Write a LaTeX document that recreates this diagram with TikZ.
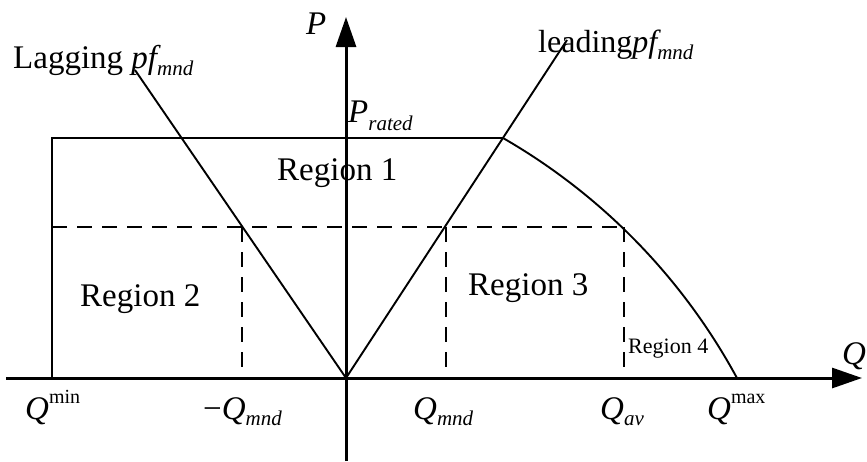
\documentclass[tikz,border=0pt]{standalone}
\usepackage{fontspec}
\setmainfont{Liberation Serif}
\usetikzlibrary{arrows.meta}
\newcommand\fs[1]{\fontsize{#1}{#1}\selectfont}
\newcommand\lsub[2][6pt]{\raisebox{-#1}{\fs{21}\itshape #2}}
\newcommand\usup[1]{\raisebox{16pt}{\fs{20}#1}}
\begin{document}
\begin{tikzpicture}[x=1pt,y=-1pt,
  axis/.style={line width=3pt,-{Triangle[length=30pt,width=20pt]}},
  bline/.style={line width=1.9pt},
  dline/.style={line width=1.9pt,dash pattern=on 15pt off 10pt},
  lbl/.style={inner sep=0pt,anchor=base west,font=\fs{33}},
  small/.style={inner sep=0pt,anchor=base west,font=\fs{22}}]
\useasboundingbox (0,0) rectangle (867,461);
% coordinates
\coordinate (O) at (346,378);
\coordinate (qL) at (6,378);
\coordinate (qR) at (862,378);
\coordinate (pB) at (346,461);
\coordinate (pT) at (346,17);
\coordinate (bl) at (52,378);
\coordinate (tl) at (52,138);
\coordinate (tr) at (503,138);
\coordinate (lagT) at (135,70);
\coordinate (leadT) at (567,40);
\coordinate (dl) at (52,227);
\coordinate (dr) at (624,227);
\coordinate (d1t) at (242,227);
\coordinate (d1b) at (242,378);
\coordinate (d2t) at (446,227);
\coordinate (d2b) at (446,378);
\coordinate (d3b) at (624,378);
% axes
\draw[axis] (qL) -- (qR);
\draw[axis] (pB) -- (pT);
% boundary
\draw[bline] (bl) -- (tl) -- (tr);
\draw[bline] (tr) arc[start angle=-60.06, end angle=-28.4, radius=616];
% pf lines
\draw[bline] (lagT) -- (O) -- (leadT);
% dashed
\draw[dline] (dl) -- (dr);
\draw[dline] (d1t) -- (d1b);
\draw[dline] (d2t) -- (d2b);
\draw[dline] (dr) -- (d3b);
% labels
\node[lbl,font=\fs{33}] (P) at (306,34) {\itshape P};
\node[lbl] (Prated) at (348,122) {\itshape P\lsub[8pt]{rated}};
\node[lbl] (Qlab) at (842,364) {\itshape Q};
\node[lbl] (lag) at (13,68) {Lagging \itshape pf\lsub[7pt]{mnd}};
\node[lbl,font=\fs{32}] (lead) at (538,52) {leading\itshape pf\lsub[7pt]{mnd}};
\node[lbl] (r1) at (277,180) {Region 1};
\node[lbl] (r2) at (80,306) {Region 2};
\node[lbl] (r3) at (468,295) {Region 3};
\node[small] (r4) at (628,353) {Region 4};
\node[lbl] (qmin) at (25,419) {\itshape Q\usup{\upshape min}};
\node[lbl] (nqmnd) at (203,419) {\textminus\itshape Q\lsub{mnd}};
\node[lbl] (qmnd) at (413,419) {\itshape Q\lsub{mnd}};
\node[lbl] (qav) at (600,419) {\itshape Q\lsub{av}};
\node[lbl] (qmaxl) at (707,419) {\itshape Q\usup{\upshape max}};
\end{tikzpicture}
\end{document}
